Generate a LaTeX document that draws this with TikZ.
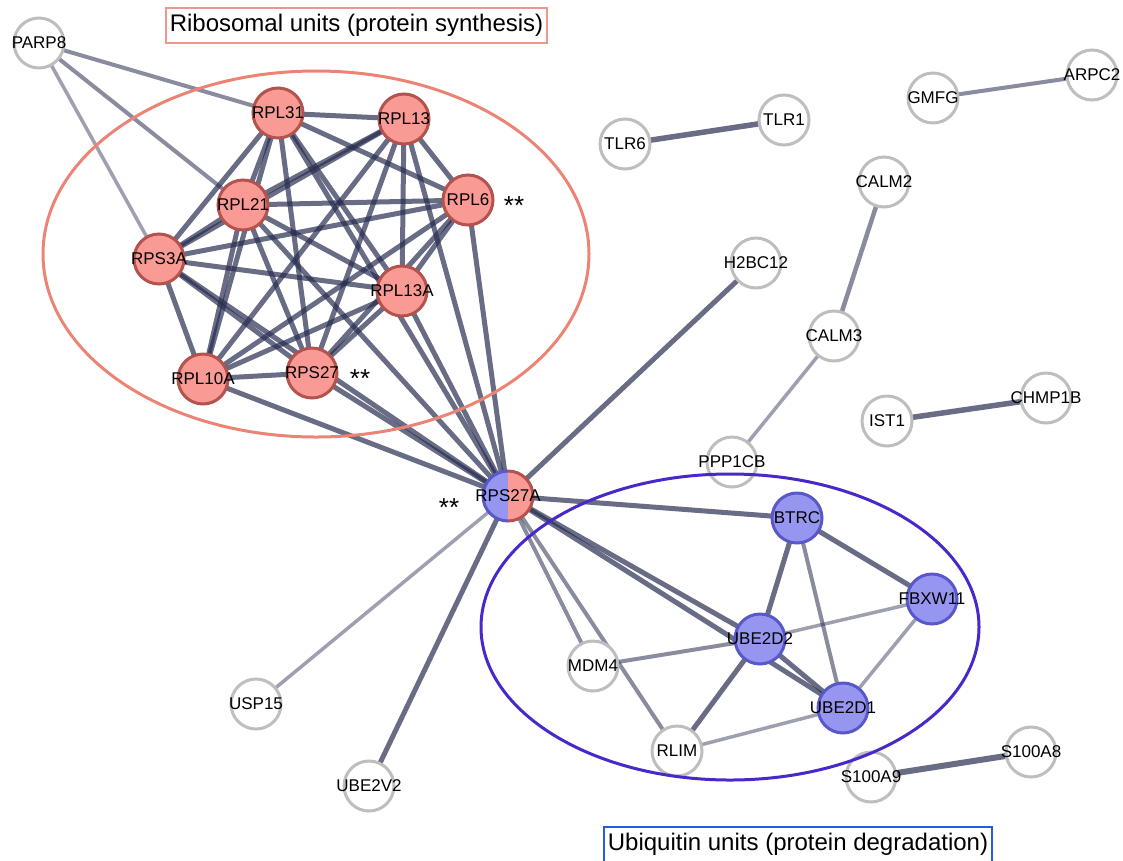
\documentclass[tikz,border=0pt]{standalone}
\usepackage{fontspec}
\setmainfont{Liberation Sans}
\usetikzlibrary{backgrounds}

\definecolor{linkcol}{RGB}{40,45,80}
\definecolor{protgray}{RGB}{190,190,190}
\definecolor{ribolight}{RGB}{249,154,149}
\definecolor{ribodark}{RGB}{180,82,78}
\definecolor{ubilight}{RGB}{150,150,240}
\definecolor{ubidark}{RGB}{88,88,200}
\definecolor{riboring}{RGB}{236,132,118}
\definecolor{ubiring}{RGB}{72,40,200}
\definecolor{ribobox}{RGB}{240,150,140}
\definecolor{ubibox}{RGB}{40,90,225}

\begin{document}
\begin{tikzpicture}[x=1pt, y=-1pt,
    prot/.style={circle, draw=protgray, fill=white, line width=3pt, minimum size=50pt, inner sep=0pt, outer sep=0pt},
    ribo/.style={prot, draw=ribodark, fill=ribolight},
    ubi/.style={prot, draw=ubidark, fill=ubilight},
    tag/.style={font=\fontsize{17}{19}\selectfont, inner sep=0pt},
    every label/.style={tag},
    link/.style={draw=linkcol, line width=5pt, draw opacity=0.7},
    mid/.style={link, line width=4pt, draw opacity=0.55},
    faint/.style={link, line width=3.5pt, draw opacity=0.45},
    stars/.style={font=\fontsize{26}{28}\selectfont},
    legend/.style={draw, line width=2pt, fill=white, font=\fontsize{24}{28}\selectfont, inner xsep=4pt, minimum height=35pt}]

    \useasboundingbox (0,0) rectangle (1123,860);

    % ribosomal proteins
    \node[ribo, label=center:RPL31] (RPL31) at (278,113) {};
    \node[ribo, label=center:RPL13] (RPL13) at (404,119) {};
    \node[ribo, label=center:RPL6] (RPL6) at (468,200) {};
    \node[ribo, label=center:RPL21] (RPL21) at (243,205) {};
    \node[ribo, label=center:RPS3A] (RPS3A) at (159,259) {};
    \node[ribo, label=center:RPL13A] (RPL13A) at (402,291) {};
    \node[ribo, label=center:RPL10A] (RPL10A) at (203,379) {};
    \node[ribo, label=center:RPS27] (RPS27) at (312,373) {};
    \node[stars] at (514,206) {**};
    \node[stars] at (360,379) {**};

    % hub, half and half
    \node[prot, draw=none, fill=none, path picture={
        \fill[ubilight] (path picture bounding box.south west) rectangle (path picture bounding box.north);
        \fill[ribolight] (path picture bounding box.north) rectangle (path picture bounding box.south east);}]
        (RPS27A) at (508,496) {};
    \draw[ubidark, line width=3pt] (RPS27A.north) arc[start angle=90, end angle=270, radius=25pt];
    \draw[ribodark, line width=3pt] (RPS27A.south) arc[start angle=-90, end angle=90, radius=25pt];
    \node[tag] at (RPS27A.center) {RPS27A};
    \node[stars] at (449,508) {**};

    % ubiquitin proteins
    \node[ubi, label=center:BTRC] (BTRC) at (797,518) {};
    \node[ubi, label=center:FBXW11] (FBXW11) at (932,599) {};
    \node[ubi, label=center:UBE2D2] (UBE2D2) at (760,639) {};
    \node[ubi, label=center:UBE2D1] (UBE2D1) at (843,708) {};

    % other proteins
    \node[prot, label=center:PARP8] (PARP8) at (39,43) {};
    \node[prot, label=center:H2BC12] (H2BC12) at (756,263) {};
    \node[prot, label=center:TLR6] (TLR6) at (625,144) {};
    \node[prot, label=center:TLR1] (TLR1) at (784,120) {};
    \node[prot, label=center:GMFG] (GMFG) at (933,98) {};
    \node[prot, label=center:ARPC2] (ARPC2) at (1092,75) {};
    \node[prot, label=center:CALM2] (CALM2) at (884,182) {};
    \node[prot, label=center:CALM3] (CALM3) at (834,336) {};
    \node[prot, label=center:IST1] (IST1) at (887,421) {};
    \node[prot, label=center:CHMP1B] (CHMP1B) at (1046,398) {};
    \node[prot, label=center:PPP1CB] (PPP1CB) at (732,462) {};
    \node[prot, label=center:MDM4] (MDM4) at (593,666) {};
    \node[prot, label=center:RLIM] (RLIM) at (677,751) {};
    \node[prot, label=center:USP15] (USP15) at (256,704) {};
    \node[prot, label=center:UBE2V2] (UBE2V2) at (369,786) {};
    \node[prot, label=center:S100A9] (S100A9) at (871,777) {};
    \node[prot, label=center:S100A8] (S100A8) at (1031,752) {};

    \begin{scope}[on background layer]
    % ribosomal clique
    \draw[link] (RPL31) -- (RPL13);  \draw[link] (RPL31) -- (RPL6);
    \draw[link] (RPL31) -- (RPL21);  \draw[link] (RPL31) -- (RPS3A);
    \draw[link] (RPL31) -- (RPL13A); \draw[link] (RPL31) -- (RPL10A);
    \draw[link] (RPL31) -- (RPS27);  \draw[link] (RPL31) -- (RPS27A);
    \draw[link] (RPL13) -- (RPL6);   \draw[link] (RPL13) -- (RPL21);
    \draw[link] (RPL13) -- (RPS3A);  \draw[link] (RPL13) -- (RPL13A);
    \draw[link] (RPL13) -- (RPL10A); \draw[link] (RPL13) -- (RPS27);
    \draw[link] (RPL13) -- (RPS27A);
    \draw[link] (RPL6) -- (RPL21);   \draw[link] (RPL6) -- (RPS3A);
    \draw[link] (RPL6) -- (RPL13A);  \draw[link] (RPL6) -- (RPL10A);
    \draw[link] (RPL6) -- (RPS27);   \draw[link] (RPL6) -- (RPS27A);
    \draw[link] (RPL21) -- (RPS3A);  \draw[link] (RPL21) -- (RPL13A);
    \draw[link] (RPL21) -- (RPL10A); \draw[link] (RPL21) -- (RPS27);
    \draw[link] (RPL21) -- (RPS27A);
    \draw[link] (RPS3A) -- (RPL13A); \draw[link] (RPS3A) -- (RPL10A);
    \draw[link] (RPS3A) -- (RPS27);  \draw[link] (RPS3A) -- (RPS27A);
    \draw[link] (RPL13A) -- (RPL10A); \draw[link] (RPL13A) -- (RPS27);
    \draw[link] (RPL13A) -- (RPS27A);
    \draw[link] (RPL10A) -- (RPS27); \draw[link] (RPL10A) -- (RPS27A);
    \draw[link] (RPS27) -- (RPS27A);
    \draw[mid] (PARP8) -- (RPL31);   \draw[mid] (PARP8) -- (RPL21);
    \draw[faint] (PARP8) -- (RPS3A);

    % hub links
    \draw[link] (RPS27A) -- (H2BC12);
    \draw[link] (RPS27A) -- (BTRC);
    \draw[link] (RPS27A) -- (UBE2D2);
    \draw[link] (RPS27A) -- (UBE2D1);
    \draw[mid] (RPS27A) -- (MDM4);
    \draw[mid] (RPS27A) -- (RLIM);
    \draw[faint] (RPS27A) -- (USP15);
    \draw[link] (RPS27A) -- (UBE2V2);

    % ubiquitin links
    \draw[link] (BTRC) -- (FBXW11);  \draw[link] (BTRC) -- (UBE2D2);
    \draw[mid] (BTRC) -- (UBE2D1);   \draw[faint] (FBXW11) -- (UBE2D2);
    \draw[faint] (FBXW11) -- (UBE2D1); \draw[link] (UBE2D2) -- (UBE2D1);
    \draw[mid] (UBE2D2) -- (MDM4);   \draw[link] (UBE2D2) -- (RLIM);
    \draw[faint] (UBE2D1) -- (RLIM);

    % loose pairs
    \draw[link, line width=5.5pt] (TLR6) -- (TLR1);
    \draw[mid] (GMFG) -- (ARPC2);
    \draw[mid, line width=4.5pt] (CALM2) -- (CALM3);
    \draw[faint] (CALM3) -- (PPP1CB);
    \draw[link, line width=5.5pt] (IST1) -- (CHMP1B);
    \draw[link, line width=6pt] (S100A9) -- (S100A8);
    \end{scope}

    % groups
    \draw[riboring, line width=3pt] (316,254) ellipse [x radius=273pt, y radius=183pt];
    \draw[ubiring, line width=3pt] (730,627) ellipse [x radius=249pt, y radius=153pt];
    \node[legend, draw=ribobox] (ribolegend) at (356.5,25.5) {Ribosomal units (protein synthesis)};
    \node[legend, draw=ubibox] (ubilegend) at (798,844) {Ubiquitin units (protein degradation)};

\end{tikzpicture}
\end{document}
